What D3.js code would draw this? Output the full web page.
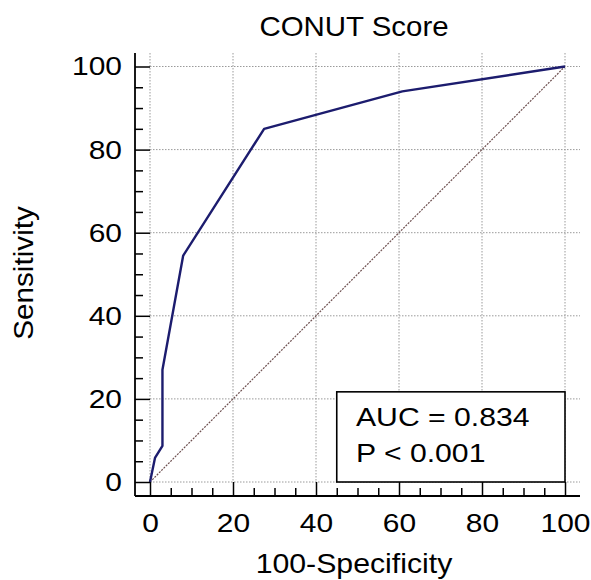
<!DOCTYPE html>
<html>
<head>
<meta charset="utf-8">
<script src="https://cdn.jsdelivr.net/npm/d3@7"></script>
<style>
    body { margin: 0; background: #fff; }
    text { font-family: "Liberation Sans", Arial, sans-serif; fill: #000; }
</style>
</head>
<body>
<div id="chart"></div>
<script>
// ROC points
const fpr = [0, 1.2, 3.0, 3.0, 8.0, 27.5, 60.8, 100];
const tpr = [0, 5.8, 8.7, 27.0, 54.5, 85.0, 94.0, 100];
const majorTicks = [0, 20, 40, 60, 80, 100];
const minorTicks = d3.range(0, 101, 5).filter(d => d % 20 != 0);
const titleText = "CONUT Score";
const xLabel = "100-Specificity";
const yLabel = "Sensitivity";
const legendLines = ["AUC = 0.834", "P < 0.001"];

const width = 591, height = 580;
// axis frame and data area
const frame = { left: 135, right: 580, top: 53, bottom: 496 };
const x = d3.scaleLinear().domain([0, 100]).range([150, 565]);
const y = d3.scaleLinear().domain([0, 100]).range([482, 66.5]);
const stretch = 1.13;

const svg = d3.select("#chart").append("svg")
    .attr("width", width).attr("height", height);

// widen glyphs a bit like the source image
function widen(sel, k) {
    sel.each(function () {
        const len = this.getComputedTextLength();
        d3.select(this).attr("textLength", len * k).attr("lengthAdjust", "spacingAndGlyphs");
    });
}

// grid
const grid = svg.append("g").attr("stroke", "#9a9a9a").attr("stroke-width", 1)
    .attr("stroke-dasharray", "1.5,1.5");
grid.selectAll("line.v").data(majorTicks).enter().append("line")
    .attr("x1", d => x(d)).attr("x2", d => x(d))
    .attr("y1", frame.top).attr("y2", y(0));
grid.selectAll("line.h").data(majorTicks).enter().append("line")
    .attr("x1", x(0)).attr("x2", frame.right)
    .attr("y1", d => y(d)).attr("y2", d => y(d));

// diagonal reference
svg.append("line")
    .attr("x1", x(0)).attr("y1", y(0)).attr("x2", x(100)).attr("y2", y(100))
    .attr("stroke", "#6e5050").attr("stroke-width", 1.2).attr("stroke-dasharray", "2,1.2");

// ROC curve
const line = d3.line().x(d => x(d[0])).y(d => y(d[1]));
svg.append("path")
    .datum(d3.zip(fpr, tpr))
    .attr("d", line)
    .attr("fill", "none").attr("stroke", "#1c1c6e").attr("stroke-width", 2.4)
    .attr("stroke-linejoin", "round");

// axes
const yAxis = svg.append("g").attr("transform", "translate(" + frame.left + ",0)")
    .call(d3.axisLeft(y).tickValues(majorTicks).tickSize(-15).tickPadding(13));
const yMinor = svg.append("g").attr("transform", "translate(" + frame.left + ",0)")
    .call(d3.axisLeft(y).tickValues(minorTicks).tickSize(-8).tickFormat(""));
const xAxis = svg.append("g").attr("transform", "translate(0," + frame.bottom + ")")
    .call(d3.axisBottom(x).tickValues(majorTicks).tickSize(-14).tickPadding(17));
const xMinor = svg.append("g").attr("transform", "translate(0," + frame.bottom + ")")
    .call(d3.axisBottom(x).tickValues(minorTicks).tickSize(-8).tickFormat(""));

[yAxis, yMinor, xAxis, xMinor].forEach(a => {
    a.select(".domain").remove();
    a.selectAll("line").attr("stroke", "#000").attr("stroke-width", 1.5);
    a.selectAll("text").style("font-size", "26.5px").attr("font-family", null);
});
widen(yAxis.selectAll("text"), stretch);
widen(xAxis.selectAll("text"), stretch);

svg.append("line").attr("x1", frame.left).attr("x2", frame.left)
    .attr("y1", frame.top).attr("y2", frame.bottom)
    .attr("stroke", "#000").attr("stroke-width", 1.8);
svg.append("line").attr("x1", frame.left).attr("x2", frame.right)
    .attr("y1", frame.bottom).attr("y2", frame.bottom)
    .attr("stroke", "#000").attr("stroke-width", 1.8);

// legend box
const box = svg.append("g");
box.append("rect")
    .attr("x", x(45)).attr("y", y(21.7))
    .attr("width", x(100) - x(45)).attr("height", y(0) - y(21.7))
    .attr("fill", "#fff").attr("stroke", "#000").attr("stroke-width", 1.6);
box.selectAll("text").data(legendLines).enter().append("text")
    .attr("x", 356).attr("y", (d, i) => 426 + i * 35.5)
    .style("font-size", "26px")
    .text(d => d)
    .call(widen, 1.16);

// titles
svg.append("text").attr("x", 354).attr("y", 36)
    .attr("text-anchor", "middle").style("font-size", "27.5px")
    .text(titleText).call(widen, 1.07);
svg.append("text").attr("x", 354).attr("y", 573)
    .attr("text-anchor", "middle").style("font-size", "28px")
    .text(xLabel).call(widen, 1.08);
svg.append("text").attr("transform", "translate(33,273) rotate(-90)")
    .attr("text-anchor", "middle").style("font-size", "27.5px")
    .text(yLabel).call(widen, 1.08);
</script>
</body>
</html>
